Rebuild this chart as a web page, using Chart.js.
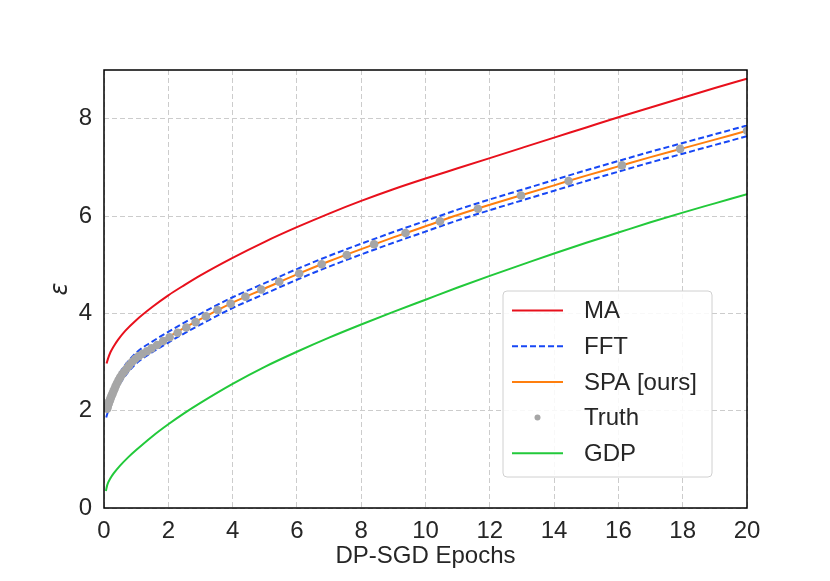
<!DOCTYPE html>
<html>
<head>
<meta charset="utf-8">
<title>epsilon vs epochs</title>
<script src="https://cdn.jsdelivr.net/npm/chart.js@4.4.1/dist/chart.umd.min.js"></script>
<style>
  body { margin: 0; background: #fff; }
  #wrap { width: 830px; height: 581px; }
</style>
</head>
<body>
<div id="wrap"><canvas id="epsChart" width="830" height="581"></canvas></div>
<script>
// values
const xTicks = [0, 2, 4, 6, 8, 10, 12, 14, 16, 18, 20];
const yTicks = [0, 2, 4, 6, 8];

const maX = [0.08, 0.12, 0.2, 0.3, 0.44, 0.66, 1, 1.5, 2, 2.5, 3, 4, 5, 6, 7, 8, 9, 10, 11, 12, 13, 14, 15, 16, 17, 18, 19, 20];
const maEps = [2.97, 3.06, 3.20, 3.32, 3.46, 3.64, 3.86, 4.13, 4.37, 4.58, 4.78, 5.14, 5.47, 5.77, 6.05, 6.31, 6.55, 6.77, 6.98, 7.19, 7.40, 7.61, 7.82, 8.03, 8.23, 8.43, 8.63, 8.82];

const curveX = [0.07, 0.1, 0.15, 0.2, 0.3, 0.4, 0.5, 0.7, 1, 1.5, 2, 2.5, 3, 4, 5, 6, 7, 8, 9, 10, 11, 12, 13, 14, 15, 16, 17, 18, 19, 20];
const fftUpper = [2.09, 2.16, 2.28, 2.37, 2.53, 2.67, 2.79, 2.97, 3.19, 3.42, 3.62, 3.81, 3.99, 4.33, 4.62, 4.91, 5.18, 5.43, 5.67, 5.90, 6.13, 6.34, 6.54, 6.74, 6.94, 7.13, 7.32, 7.50, 7.68, 7.86];
const fftLower = [1.86, 1.93, 2.05, 2.14, 2.30, 2.44, 2.56, 2.75, 2.97, 3.20, 3.40, 3.59, 3.77, 4.11, 4.40, 4.69, 4.96, 5.21, 5.45, 5.68, 5.91, 6.12, 6.32, 6.52, 6.72, 6.91, 7.10, 7.28, 7.46, 7.64];
const spaEps = [1.97, 2.04, 2.16, 2.25, 2.41, 2.55, 2.67, 2.86, 3.08, 3.31, 3.51, 3.70, 3.88, 4.22, 4.51, 4.80, 5.07, 5.32, 5.56, 5.79, 6.02, 6.23, 6.43, 6.63, 6.83, 7.02, 7.21, 7.39, 7.57, 7.75];

const truthX = [0.1, 0.111, 0.124, 0.138, 0.154, 0.172, 0.191, 0.213, 0.238, 0.265, 0.295, 0.329, 0.366, 0.408, 0.455, 0.507, 0.565, 0.629, 0.701, 0.781, 0.87, 0.969, 1.08, 1.2, 1.34,
  1.48, 1.65, 1.84, 2.04, 2.29, 2.56, 2.85, 3.17, 3.53, 3.94, 4.4, 4.89, 5.45, 6.07, 6.77, 7.55, 8.4, 9.38, 10.45, 11.63, 12.97, 14.45, 16.11, 17.92, 20];
const truthEps = [2.04, 2.08, 2.11, 2.14, 2.17, 2.20, 2.23, 2.27, 2.31, 2.35, 2.40, 2.45, 2.51, 2.57, 2.63, 2.69, 2.75, 2.80, 2.86, 2.93, 3.00, 3.06, 3.12, 3.17, 3.22,
  3.28, 3.35, 3.43, 3.51, 3.60, 3.71, 3.82, 3.94, 4.07, 4.20, 4.34, 4.49, 4.65, 4.82, 5.01, 5.20, 5.42, 5.65, 5.89, 6.15, 6.42, 6.72, 7.04, 7.38, 7.75];

const gdpX = [0.06, 0.1, 0.2, 0.3, 0.5, 0.75, 1, 1.5, 2, 2.5, 3, 4, 5, 6, 7, 8, 9, 10, 11, 12, 13, 14, 15, 16, 17, 18, 19, 20];
const gdpEps = [0.35, 0.47, 0.61, 0.71, 0.87, 1.04, 1.19, 1.47, 1.72, 1.95, 2.16, 2.55, 2.90, 3.21, 3.50, 3.77, 4.03, 4.28, 4.53, 4.77, 5.00, 5.23, 5.45, 5.66, 5.87, 6.07, 6.26, 6.45];

const pts = (xs, ys) => xs.map((x, i) => ({ x: x, y: ys[i] }));

const FONT = "'Liberation Sans', Arial, sans-serif";
const TEXT = '#262626';

// black frame around the plot area
const framePlugin = {
  id: 'frame',
  afterDatasetsDraw(chart) {
    const a = chart.chartArea, ctx = chart.ctx;
    ctx.save();
    ctx.strokeStyle = '#000';
    ctx.lineWidth = 1.5;
    ctx.strokeRect(a.left, a.top, a.right - a.left, a.bottom - a.top);
    ctx.restore();
  }
};

// matplotlib-like legend box, lower right inside the axes
const boxLegend = {
  id: 'boxLegend',
  afterDraw(chart) {
    const a = chart.chartArea, ctx = chart.ctx;
    const w = 209, h = 186;
    const left = a.right - 35 - w, top = a.bottom - 31 - h;
    ctx.save();
    ctx.beginPath();
    ctx.roundRect(left, top, w, h, 4);
    ctx.fillStyle = 'rgba(255,255,255,0.85)';
    ctx.fill();
    ctx.strokeStyle = '#d0d0d0';
    ctx.lineWidth = 1;
    ctx.stroke();

    const items = chart.data.datasets
      .filter(d => !d.hideInLegend)
      .sort((p, q) => p.legendRank - q.legendRank);
    items.forEach((d, i) => {
      const y = top + 19.5 + i * 35.7;
      const x0 = left + 9, x1 = left + 60;
      if (d.showLine === false) {
        ctx.beginPath();
        ctx.fillStyle = d.backgroundColor;
        ctx.arc((x0 + x1) / 2, y, 3, 0, Math.PI * 2);
        ctx.fill();
      } else {
        ctx.beginPath();
        ctx.setLineDash(d.borderDash || []);
        ctx.strokeStyle = d.borderColor;
        ctx.lineWidth = d.borderWidth;
        ctx.moveTo(x0, y);
        ctx.lineTo(x1, y);
        ctx.stroke();
        ctx.setLineDash([]);
      }
      ctx.fillStyle = TEXT;
      ctx.font = '24px ' + FONT;
      ctx.textBaseline = 'middle';
      ctx.fillText(d.label, left + 81, y + 1);
    });
    ctx.restore();
  }
};

const ctx1 = document.getElementById('epsChart');

new Chart(ctx1, {
  type: 'line',
  data: {
    datasets: [
      { label: 'Truth', data: pts(truthX, truthEps), showLine: false, pointRadius: 4.3,
        backgroundColor: '#a6a6a6', borderWidth: 0, order: 0, legendRank: 3 },
      { label: 'SPA [ours]', data: pts(curveX, spaEps), borderColor: '#ff7f0e', borderWidth: 2,
        pointRadius: 0, order: 1, legendRank: 2 },
      { label: 'FFT', data: pts(curveX, fftUpper), borderColor: '#1747f5', borderWidth: 2,
        borderDash: [6, 3], pointRadius: 0, order: 2, legendRank: 1 },
      { label: 'FFT', data: pts(curveX, fftLower), borderColor: '#1747f5', borderWidth: 2,
        borderDash: [6, 3], pointRadius: 0, order: 2, hideInLegend: true },
      { label: 'MA', data: pts(maX, maEps), borderColor: '#e8101c', borderWidth: 2,
        pointRadius: 0, order: 3, legendRank: 0 },
      { label: 'GDP', data: pts(gdpX, gdpEps), borderColor: '#22c93a', borderWidth: 2,
        pointRadius: 0, order: 3, legendRank: 4 }
    ]
  },
  options: {
    responsive: false,
    animation: false,
    devicePixelRatio: 1,
    layout: { padding: { left: 0, right: 83, top: 70, bottom: 0 } },
    elements: { line: { cubicInterpolationMode: 'monotone', fill: false } },
    plugins: {
      legend: { display: false },
      tooltip: { enabled: false }
    },
    scales: {
      x: {
        type: 'linear',
        min: 0,
        max: 20,
        afterBuildTicks: s => { s.ticks = xTicks.map(v => ({ value: v })); },
        afterFit: s => { s.height = 73; },
        border: { display: false, dash: [5, 3] },
        grid: { color: '#cccccc', lineWidth: 1, drawTicks: false },
        ticks: { padding: 9, color: TEXT, font: { family: FONT, size: 24 } },
        title: { display: true, text: 'DP-SGD Epochs', color: TEXT,
          font: { family: FONT, size: 24 }, padding: { top: 0, bottom: 10 } }
      },
      y: {
        type: 'linear',
        min: 0,
        max: 9,
        afterBuildTicks: s => { s.ticks = yTicks.map(v => ({ value: v })); },
        afterFit: s => { s.width = 104; },
        border: { display: false, dash: [5, 3] },
        grid: { color: '#cccccc', lineWidth: 1, drawTicks: false },
        ticks: { padding: 12, color: TEXT, font: { family: FONT, size: 24 } },
        title: { display: true, text: 'ε', color: TEXT,
          font: { family: "'DejaVu Sans', sans-serif", size: 24, style: 'italic' },
          padding: { top: 46, bottom: 0 } }
      }
    }
  },
  plugins: [framePlugin, boxLegend]
});
</script>
</body>
</html>
